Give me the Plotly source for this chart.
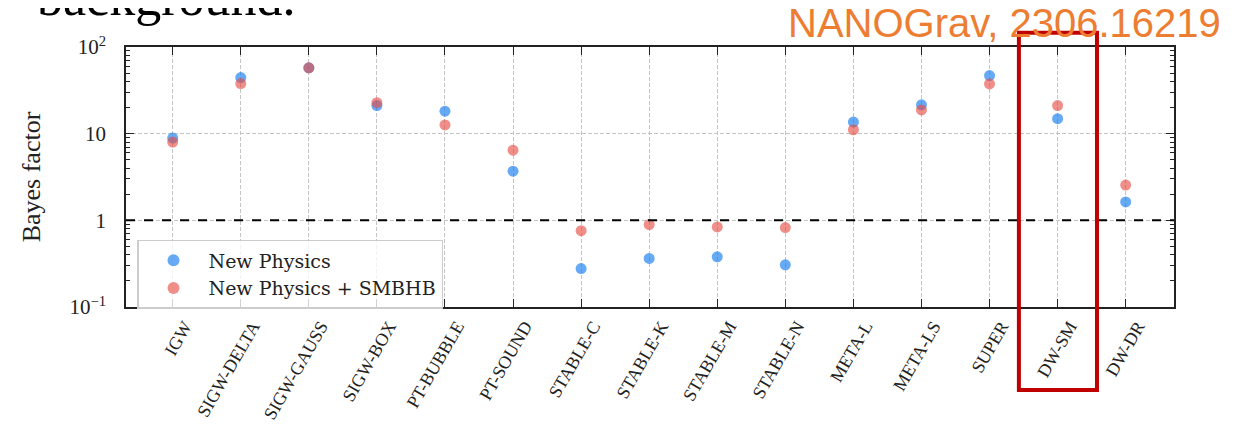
import plotly.graph_objects as go

categories = ["IGW", "SIGW-DELTA", "SIGW-GAUSS", "SIGW-BOX", "PT-BUBBLE", "PT-SOUND",
              "STABLE-C", "STABLE-K", "STABLE-M", "STABLE-N", "META-L", "META-LS",
              "SUPER", "DW-SM", "DW-DR"]
bf_new_physics = [8.9, 44.4, 57.5, 21.1, 18.2, 3.69, 0.278, 0.363, 0.379, 0.307,
                  13.6, 21.5, 46.8, 14.9, 1.63]
bf_new_physics_smbhb = [8.0, 37.8, 57.5, 22.8, 12.6, 6.45, 0.76, 0.895, 0.84, 0.826,
                        11.1, 18.8, 37.5, 21.1, 2.55]
ytick_vals = [0.1, 1, 10, 100]
ytick_text = ["10<sup>−1</sup>", "1", "10", "10<sup>2</sup>"]
minor_tick_vals = [m * d for d in (0.1, 1, 10) for m in range(2, 10)]

SERIF = "Liberation Serif, Times New Roman, serif"

fig = go.Figure()
fig.add_trace(go.Scatter(
    x=categories, y=bf_new_physics, mode="markers", name="New Physics",
    marker=dict(size=11, color="rgba(30,130,240,0.68)", line=dict(width=0)),
))
fig.add_trace(go.Scatter(
    x=categories, y=bf_new_physics_smbhb, mode="markers", name="New Physics + SMBHB",
    marker=dict(size=11, color="rgba(230,75,65,0.62)", line=dict(width=0)),
))

# reference line at Bayes factor = 1
fig.add_shape(type="line", xref="paper", x0=0, x1=1, yref="y", y0=1, y1=1,
              line=dict(color="black", width=2, dash="dash"))

# highlight box around DW-SM
fig.add_shape(type="rect", xref="paper", yref="paper",
              x0=0.852, x1=0.9265, y0=-0.319, y1=1.055,
              line=dict(color="#C00000", width=4), fillcolor="rgba(0,0,0,0)")

fig.add_annotation(text="NANOGrav, 2306.16219", xref="paper", yref="paper",
                   x=1.047, y=1.092, xanchor="right", yanchor="middle", showarrow=False,
                   font=dict(family="Liberation Sans, Arial, sans-serif", size=40, color="#ED7D31"))
fig.add_annotation(text="background.", xref="paper", yref="paper",
                   x=-0.0868, y=1.192, xanchor="left", yanchor="middle", showarrow=False,
                   font=dict(family="Comic Sans MS, cursive", size=52, color="black"))

axis_common = dict(
    showline=True, linecolor="#222", linewidth=1.5, mirror="ticks",
    ticks="inside", ticklen=8, tickwidth=1.3, tickcolor="#222",
    zeroline=False, automargin=False,
)

# the page body adds an 8px offset; margins below compensate so the plot area
# lands at x 126..1174, y 47..307 of the window
fig.update_layout(
    width=1237, height=416,
    margin=dict(l=118, r=71, t=39, b=117, autoexpand=False),
    paper_bgcolor="white", plot_bgcolor="white",
    showlegend=True,
    legend=dict(x=0.0105, y=0.258, xanchor="left", yanchor="top",
                bgcolor="rgba(255,255,255,0.8)", bordercolor="#cccccc", borderwidth=1.5,
                font=dict(family="DejaVu Serif, serif", size=19, color="#222"),
                itemsizing="constant", tracegroupgap=2, itemwidth=60),
    xaxis=dict(
        type="category", range=[-0.686, 14.71],
        tickangle=-60, tickfont=dict(family=SERIF, size=18, color="#222"),
        ticklabelshift=12,
        showgrid=True, gridcolor="#c4c4c4", griddash="4px,2px", gridwidth=1,
        **axis_common,
    ),
    yaxis=dict(
        type="log", range=[-1, 2],
        tickmode="array", tickvals=ytick_vals, ticktext=ytick_text,
        ticklabelstandoff=14,
        tickfont=dict(family=SERIF, size=21, color="#222"),
        showgrid=True, gridcolor="#c4c4c4", griddash="4px,2px", gridwidth=1,
        title=dict(text="Bayes factor", font=dict(family=SERIF, size=26, color="#222"),
                   standoff=21),
        **axis_common,
    ),
    yaxis2=dict(
        type="log", range=[-1, 2], overlaying="y", side="left",
        tickmode="array", tickvals=minor_tick_vals, showticklabels=False,
        ticks="inside", ticklen=4, tickwidth=1, tickcolor="#222",
        mirror="ticks", showline=False, showgrid=False, zeroline=False, automargin=False,
    ),
)
# invisible helper trace to activate the minor-tick axis
fig.add_trace(go.Scatter(x=[categories[0]], y=[1], yaxis="y2", mode="markers",
                         marker=dict(opacity=0), showlegend=False, hoverinfo="skip"))

fig.write_html("out.html")
